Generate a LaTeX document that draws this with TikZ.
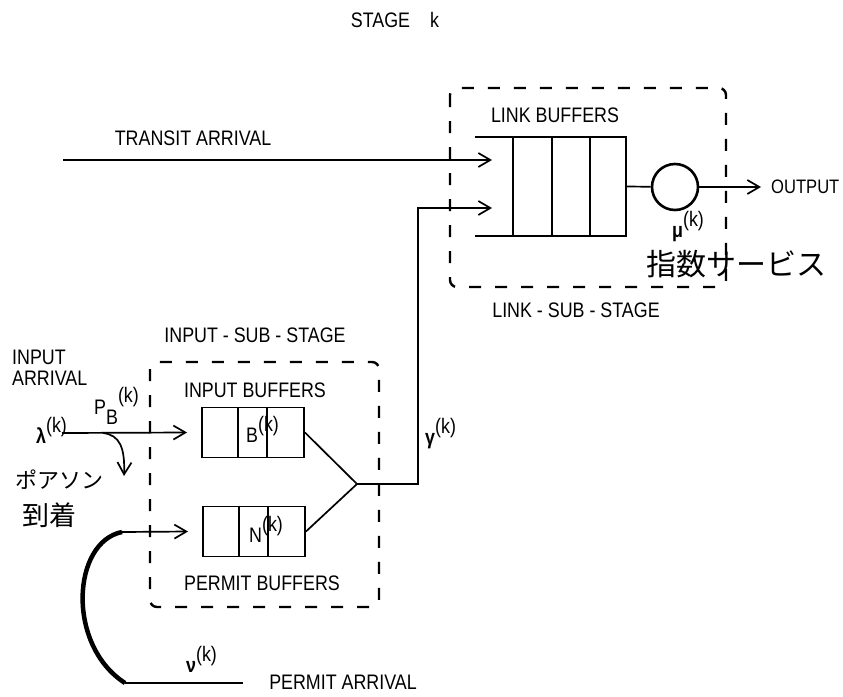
\documentclass[tikz,border=0pt]{standalone}
\usepackage{fontspec}
\setmainfont{Liberation Sans}[FakeStretch=0.85]
\newfontfamily\jpfont{Noto Sans CJK JP}
\usetikzlibrary{arrows.meta}

\newcommand{\sk}{\raisebox{0.5em}{(k)}}

\tikzset{
  lbl/.style={font=\fontsize{21}{23}\selectfont, inner sep=0pt},
  jp/.style={font=\jpfont\fontsize{30}{32}\selectfont, inner sep=0pt},
  dashbox/.style={line width=2.4pt, dash pattern=on 12pt off 14pt, rounded corners=7pt},
  buf/.style={draw, line width=1.9pt, minimum width=102pt, minimum height=50pt, inner sep=0pt},
  flow/.style={line width=1.7pt, -{Straight Barb[length=12pt,width=14pt]}},
}

\begin{document}
\begin{tikzpicture}[x=1pt,y=-1pt]
\useasboundingbox[fill=white] (0,0) rectangle (843,696);

% Title
\node[lbl] (stage) at (395,20) {STAGE\hspace{20pt}k};

% Link sub-stage
\draw[dashbox] (450,88) rectangle (726,287);
\node[lbl] (linkbuftxt) at (555,115) {LINK BUFFERS};
\node[lbl] (linksub) at (576,310) {LINK - SUB - STAGE};
\node[minimum width=151pt, minimum height=99pt, inner sep=0pt] (lbuf) at (550.5,186.5) {};
\draw[line width=1.9pt] (lbuf.north west) -- (lbuf.north east) -- (lbuf.south east) -- (lbuf.south west);
\foreach \dx in {38,77,115} {
    \draw[line width=1.9pt] ([xshift=\dx pt]lbuf.north west) -- ([xshift=\dx pt]lbuf.south west);
}
\node[circle, draw, line width=2.6pt, minimum size=46pt, inner sep=0pt] (srv) at (675,187) {};
\draw[line width=1.7pt] (lbuf.east) -- (srv);
\node[lbl, anchor=west, font=\fontsize{19.5}{22}\selectfont] (output) at (771,187) {OUTPUT};
\draw[flow] (srv) -- ([xshift=-10pt]output.west);
\node[lbl, anchor=base west] (mu) at (672,237) {\textbf{μ}\sk};
\node[jp] (expsrv) at (736,264) {指数サービス};

% Transit arrival
\coordinate (transit) at (63,160);
\coordinate (lq1) at (492,160);
\coordinate (lq2) at (492,208);
\node[lbl] (transittxt) at (193,138) {TRANSIT ARRIVAL};
\draw[flow] (transit) -- (lq1);

% Input sub-stage
\draw[dashbox] (150,362) rectangle (379,607);
\node[lbl] (inputsub) at (255,335) {INPUT - SUB - STAGE};
\node[lbl] (inbuftxt) at (255,390) {INPUT BUFFERS};
\node[lbl] (pmbuftxt) at (262,583) {PERMIT BUFFERS};
\node[buf] (ibuf) at (253,432.5) {};
\node[buf] (pbuf) at (254,531.5) {};
\foreach \dx in {37,66} {
    \draw[line width=1.9pt] ([xshift=\dx pt]ibuf.north west) -- ([xshift=\dx pt]ibuf.south west);
    \draw[line width=1.9pt] ([xshift=\dx pt]pbuf.north west) -- ([xshift=\dx pt]pbuf.south west);
}
\node[lbl, anchor=base west] (bk) at (246,442) {B\sk};
\node[lbl, anchor=base west] (nk) at (249,542) {N\sk};

% Merge to link buffers
\coordinate (merge) at (357,484);
\coordinate (turn) at (418,208);
\draw[line width=1.7pt] (ibuf.east) -- (merge);
\draw[line width=1.7pt] (pbuf.east) -- (merge);
\draw[flow] (merge) -| (turn) -- (lq2);
\node[lbl, anchor=base west] (gamma) at (425,444) {\textbf{γ}\sk};

% Input arrival
\node[lbl, align=left, anchor=north west, font=\fontsize{21}{21}\selectfont] (inarrtxt) at (12,350) {INPUT\\ARRIVAL};
\node[lbl, anchor=base west] (lambda) at (36,443) {\textbf{λ}\sk};
\node[lbl, anchor=base west] (pb) at (94,414) {P\raisebox{-0.5em}{B}\raisebox{0.55em}{(k)}};
\coordinate (inarr) at (62,433);
\coordinate (split) at (103,433);
\coordinate (lost) at (124,476);
\draw[flow] (inarr) -- ([xshift=-14pt]ibuf.west);
\draw[flow] (split) .. controls (120,435) and (125,448) .. (lost);
\node[jp, font=\jpfont\fontsize{22}{24}\selectfont] (poisson) at (59,480) {ポアソン};
\node[jp, font=\jpfont\fontsize{27}{29}\selectfont] (arrive) at (50,515) {到着};

% Permit arrival
\coordinate (pstart) at (243,683);
\coordinate (pbend) at (125,683);
\coordinate (ptop) at (122,532);
\draw[line width=1.7pt] (pstart) -- (pbend);
\draw[line width=4.5pt] (pbend) .. controls (66,645) and (72,542) .. (ptop);
\draw[flow] (ptop) -- ([xshift=-14pt]pbuf.west);
\node[lbl, anchor=base west] (nu) at (186,672) {\textbf{ν}\sk};
\node[lbl] (permtxt) at (343,682) {PERMIT ARRIVAL};
\end{tikzpicture}
\end{document}
